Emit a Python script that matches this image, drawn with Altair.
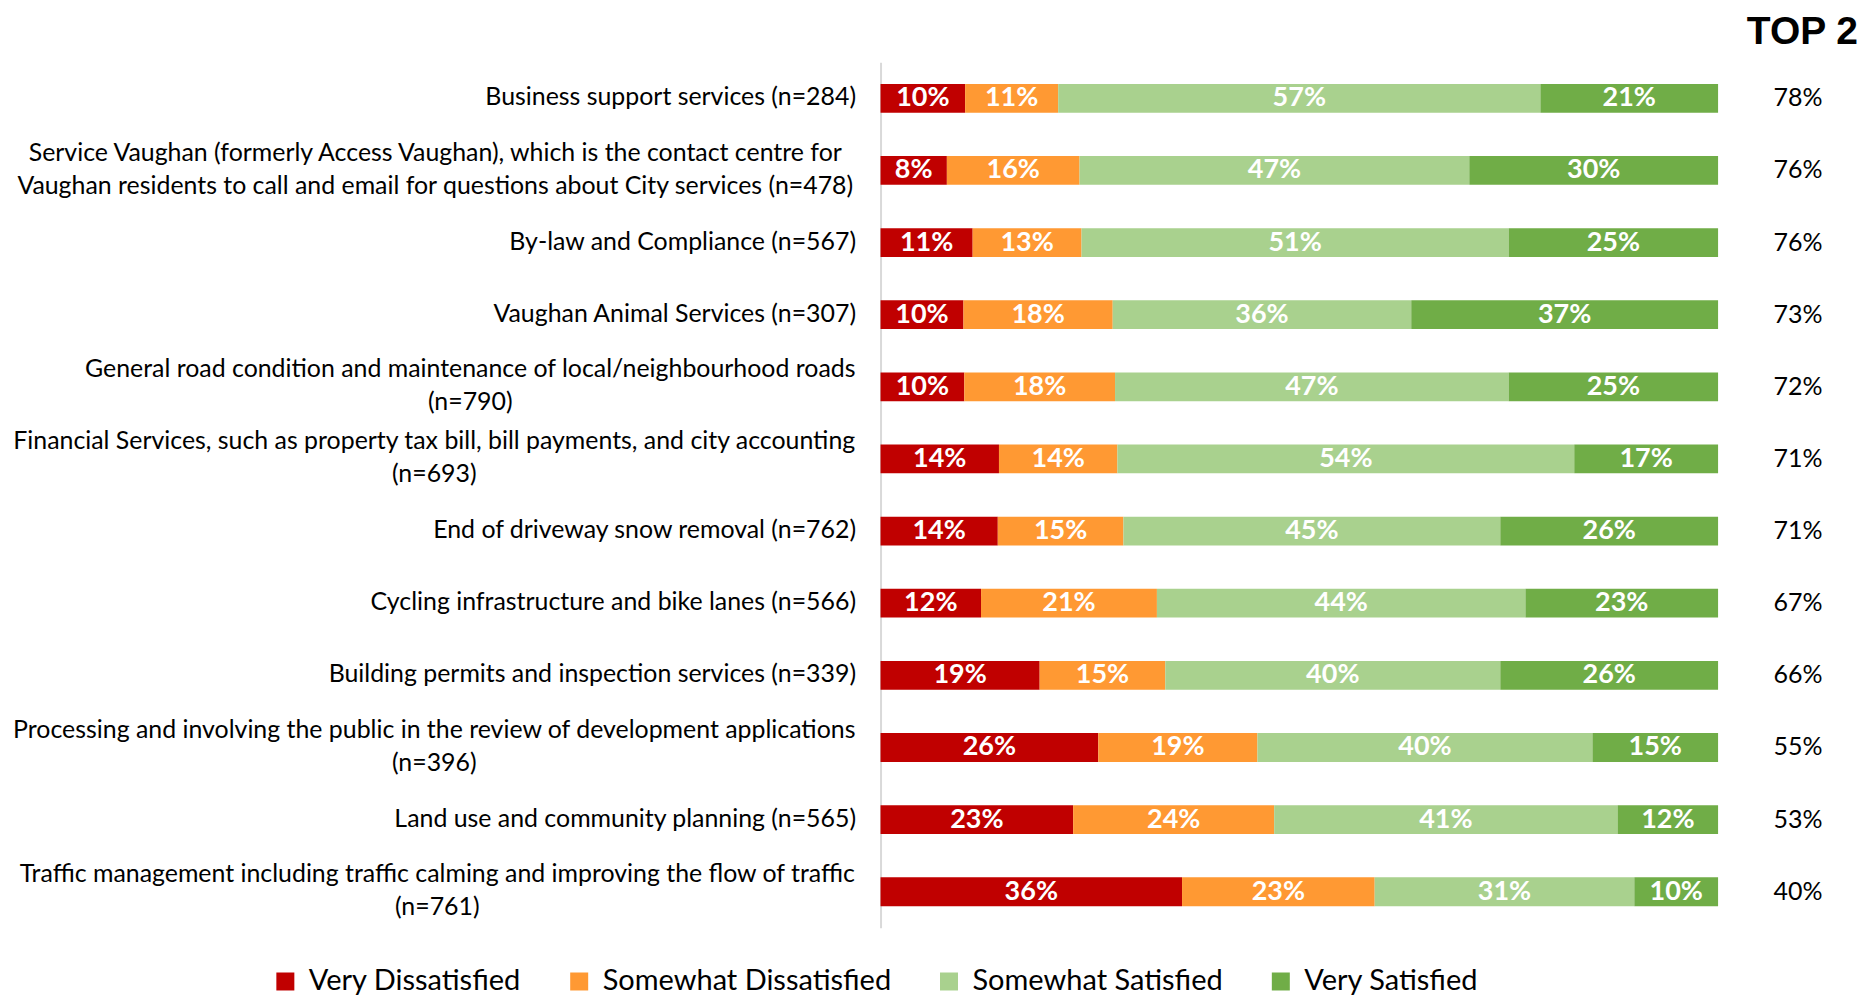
import altair as alt
import pandas as pd

services = [
    "Business support services (n=284)",
    "Service Vaughan (formerly Access Vaughan), which is the contact centre for|Vaughan residents to call and email for questions about City services (n=478)",
    "By-law and Compliance (n=567)",
    "Vaughan Animal Services (n=307)",
    "General road condition and maintenance of local/neighbourhood roads|(n=790)",
    "Financial Services, such as property tax bill, bill payments, and city accounting|(n=693)",
    "End of driveway snow removal (n=762)",
    "Cycling infrastructure and bike lanes (n=566)",
    "Building permits and inspection services (n=339)",
    "Processing and involving the public in the review of development applications|(n=396)",
    "Land use and community planning (n=565)",
    "Traffic management including traffic calming and improving the flow of traffic|(n=761)",
]
categories = ["Very Dissatisfied", "Somewhat Dissatisfied", "Somewhat Satisfied", "Very Satisfied"]
colors = ["#C00000", "#FF9933", "#A9D18E", "#70AD47"]

very_dissatisfied = [10, 8, 11, 10, 10, 14, 14, 12, 19, 26, 23, 36]
somewhat_dissatisfied = [11, 16, 13, 18, 18, 14, 15, 21, 15, 19, 24, 23]
somewhat_satisfied = [57, 47, 51, 36, 47, 54, 45, 44, 40, 40, 41, 31]
very_satisfied = [21, 30, 25, 37, 25, 17, 26, 23, 26, 15, 12, 10]
top2 = [78, 76, 76, 73, 72, 71, 71, 67, 66, 55, 53, 40]

series = [very_dissatisfied, somewhat_dissatisfied, somewhat_satisfied, very_satisfied]
rows = []
for i, s in enumerate(services):
    for j, c in enumerate(categories):
        rows.append({"service": s, "category": c, "order": j, "value": series[j][i]})
df = pd.DataFrame(rows)
top_df = pd.DataFrame({"service": services, "top2": top2})

FONT = "Lato"

# centre the lines of two-line labels (padding = gap + half block width)
multi_pad = {
    services[1]: 446,
    services[4]: 411,
    services[5]: 447,
    services[9]: 447,
    services[11]: 444,
}
pad_conditions = [{"test": f"datum.value === '{k}'", "value": v} for k, v in multi_pad.items()]
MULTI = "indexof(datum.value, '|') >= 0"

yscale = alt.Scale(domain=services, paddingInner=0.6, paddingOuter=0.3)

y_axis = alt.Axis(
    title=None,
    labelFont=FONT,
    labelFontSize=24.9,
    labelColor="black",
    labelLimit=1200,
    labelExpr="split(datum.label, '|')",
    labelLineHeight=33,
    labelAlign={"condition": {"test": MULTI, "value": "center"}, "value": "right"},
    labelPadding={"condition": pad_conditions, "value": 25},
    labelOffset={"condition": {"test": MULTI, "value": -16.5}, "value": 0},
    ticks=False,
    domainColor="#D9D9D9",
    domainWidth=2,
    grid=False,
)

base = alt.Chart(df).transform_stack(
    stack="value",
    groupby=["service"],
    as_=["v0", "v1"],
    offset="normalize",
    sort=[alt.SortField("order", order="ascending")],
).transform_calculate(
    mid="(datum.v0 + datum.v1) / 2",
    label="datum.value + '%'",
)

bars = base.mark_bar().encode(
    y=alt.Y("service:N", sort=services, scale=yscale, axis=y_axis),
    x=alt.X("v0:Q", axis=None, scale=alt.Scale(domain=[0, 1], nice=False)),
    x2="v1:Q",
    color=alt.Color(
        "category:N",
        scale=alt.Scale(domain=categories, range=colors),
        legend=alt.Legend(
            title=None,
            orient="none",
            legendX=-610,
            legendY=905,
            direction="horizontal",
            symbolType="square",
            symbolSize=324,
            symbolStrokeWidth=0,
            labelFont=FONT,
            labelFontSize=29,
            labelColor="black",
            labelLimit=500,
            labelOffset=9,
            columnPadding=43,
        ),
    ),
    order=alt.Order("order:Q"),
)

labels = base.mark_text(font=FONT, fontSize=27, fontWeight="bold", color="white").encode(
    y=alt.Y("service:N", sort=services, scale=yscale),
    x=alt.X("mid:Q", scale=alt.Scale(domain=[0, 1], nice=False)),
    text="label:N",
)

left = (bars + labels).properties(width=838, height=866)

right = alt.Chart(top_df).transform_calculate(
    t="datum.top2 + '%'"
).mark_text(font=FONT, fontSize=25, color="black").encode(
    y=alt.Y("service:N", sort=services, scale=yscale, axis=None),
    text="t:N",
).properties(width=120, height=866)

chart = alt.hconcat(left, right, spacing=20).properties(
    title=alt.TitleParams("TOP 2", anchor="end", font="Liberation Sans", fontSize=39, fontWeight="bold", color="black", offset=10),
    padding={"left": 4, "right": 4, "top": 5, "bottom": 0},
).configure_view(stroke=None).configure_concat(spacing=20)

chart.save("out.html", embed_options={"renderer": "svg", "actions": False})
